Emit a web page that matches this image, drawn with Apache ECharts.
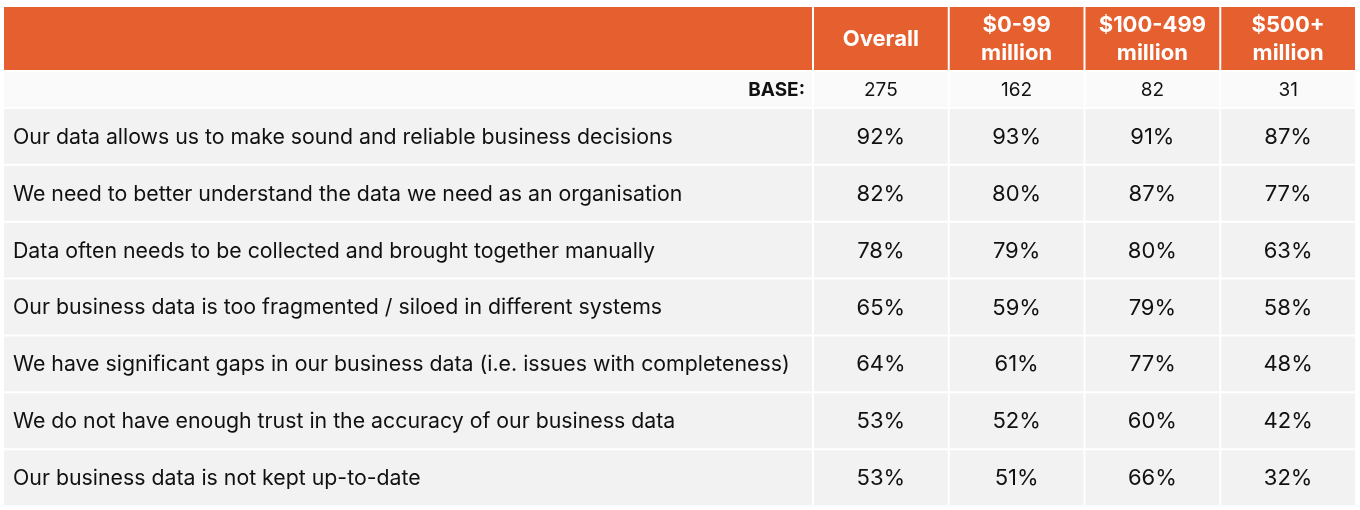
<!DOCTYPE html>
<html><head><meta charset="utf-8">
<script src="https://cdn.jsdelivr.net/npm/echarts@6/dist/echarts.min.js"></script>
<style>html,body{margin:0;padding:0;background:#fff}#c{width:1360px;height:510px}</style>
</head><body><div id="c"></div>
<script>
const columns = ['Overall', '$0-99\nmillion', '$100-499\nmillion', '$500+\nmillion'];
const baseLabel = 'BASE:';
const base = [275, 162, 82, 31];
const rowLabels = [
  'Our data allows us to make sound and reliable business decisions',
  'We need to better understand the data we need as an organisation',
  'Data often needs to be collected and brought together manually',
  'Our business data is too fragmented / siloed in different systems',
  'We have significant gaps in our business data (i.e. issues with completeness)',
  'We do not have enough trust in the accuracy of our business data',
  'Our business data is not kept up-to-date'
];
const overall = [92, 82, 78, 65, 64, 53, 53];
const rev0_99 = [93, 80, 79, 59, 61, 52, 51];
const rev100_499 = [91, 87, 80, 79, 77, 60, 66];
const rev500 = [87, 77, 63, 58, 48, 42, 32];

const FONT = 'Inter, Roboto, sans-serif';
const ORANGE = '#E5602E';

function mkRender(fill, align, font, color) {
  return function (params, api) {
    const c = api.coord([api.value(0), api.value(1)]);
    const s = api.size([1, 1]);
    const x0 = c[0] - s[0] / 2, y0 = c[1] - s[1] / 2;
    const tx = align === 'left' ? x0 + 10 : align === 'right' ? x0 + s[0] - 8 : c[0];
    return {
      type: 'group',
      children: [
        { type: 'rect', shape: { x: x0 + 1, y: y0 + 1, width: s[0] - 2, height: s[1] - 2 }, style: { fill: fill } },
        { type: 'text', style: { text: api.value(2), x: tx, y: c[1] + 1, align: align, verticalAlign: 'middle',
          font: font, fill: color, lineHeight: 28 } }
      ]
    };
  };
}

const grids = [], xAxes = [], yAxes = [], series = [];
function addGrid(left, width, top, height, nx, ny) {
  const i = grids.length;
  grids.push({ left: left, width: width, top: top, height: height });
  xAxes.push({ type: 'category', gridIndex: i, data: Array.from({ length: nx }, (_, k) => k), show: false, boundaryGap: true });
  yAxes.push({ type: 'category', gridIndex: i, data: Array.from({ length: ny }, (_, k) => k), show: false, inverse: true, boundaryGap: true });
  return i;
}
function addSeries(gi, data, fill, align, font, color) {
  series.push({ type: 'custom', xAxisIndex: gi, yAxisIndex: gi, data: data, renderItem: mkRender(fill, align, font, color) });
}
const L = 3, LW = 810, R = 813, RW = 543;
const HT = 6, HH = 65, BT = 71, BH = 37, DT = 108, DH = 398;

let g = addGrid(L, LW, HT, HH, 1, 1);
addSeries(g, [[0, 0, '']], ORANGE, 'center', 'bold 20px ' + FONT, '#fff');
g = addGrid(R, RW, HT, HH, 4, 1);
addSeries(g, columns.map((t, i) => [i, 0, t]), ORANGE, 'center', 'bold 22px ' + FONT, '#fff');

g = addGrid(L, LW, BT, BH, 1, 1);
addSeries(g, [[0, 0, baseLabel]], '#FAFAFA', 'right', 'bold 19px ' + FONT, '#111');
g = addGrid(R, RW, BT, BH, 4, 1);
addSeries(g, base.map((v, i) => [i, 0, String(v)]), '#FAFAFA', 'center', '19px ' + FONT, '#111');

g = addGrid(L, LW, DT, DH, 1, 7);
addSeries(g, rowLabels.map((t, i) => [0, i, t]), '#F2F2F2', 'left', '21.3px ' + FONT, '#111');
g = addGrid(R, RW, DT, DH, 4, 7);
const cells = [];
[overall, rev0_99, rev100_499, rev500].forEach((arr, ci) => arr.forEach((v, ri) => cells.push([ci, ri, v + '%'])));
addSeries(g, cells, '#F2F2F2', 'center', '22px ' + FONT, '#111');

const chart = echarts.init(document.getElementById('c'));
chart.setOption({ animation: false, grid: grids, xAxis: xAxes, yAxis: yAxes, series: series });
</script></body></html>
